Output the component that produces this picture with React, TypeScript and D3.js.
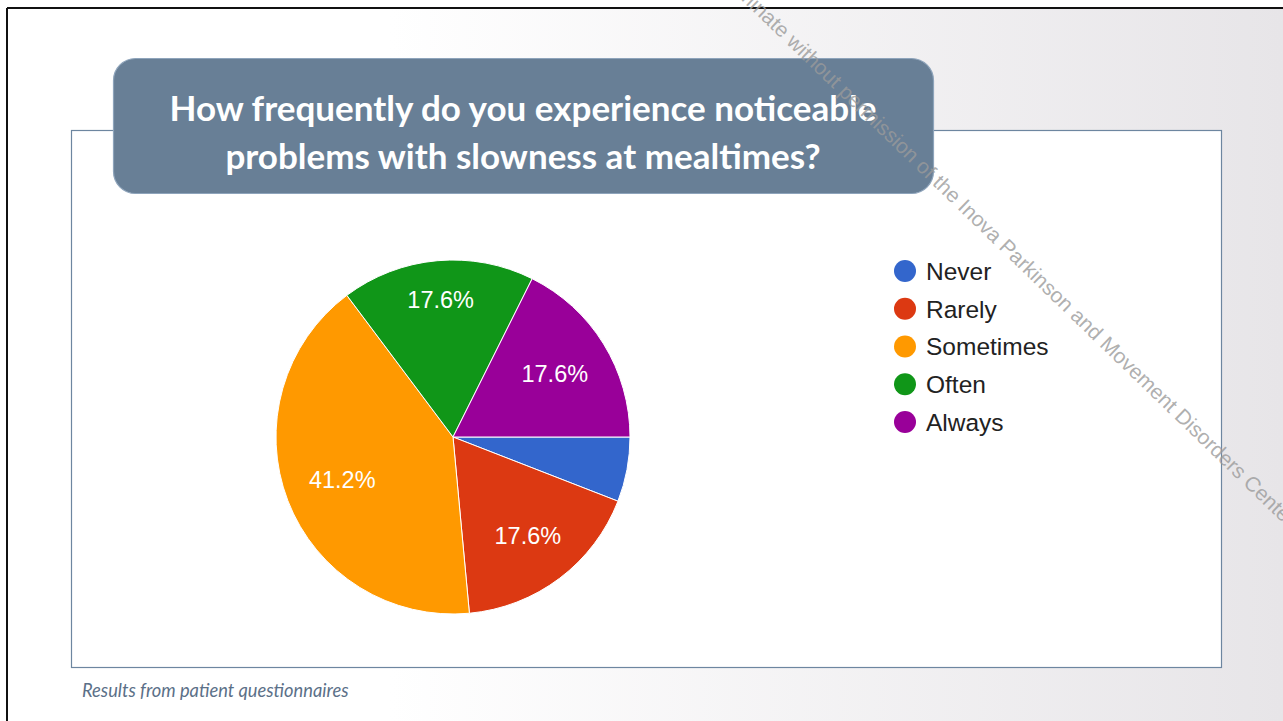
import React from "react";
import * as d3 from "d3";

const categories = ["Never", "Rarely", "Sometimes", "Often", "Always"];
const values = [5.9, 17.6, 41.2, 17.6, 17.6];
const colors = ["#3366cc", "#dc3912", "#ff9900", "#109618", "#990099"];
const titleLines = ["How frequently do you experience noticeable", "problems with slowness at mealtimes?"];
const footer = "Results from patient questionnaires";
const watermark = "Do not disseminate without permission of the Inova Parkinson and Movement Disorders Center";

export default function App() {
  const W = 1283, H = 721;
  const cx = 453, cy = 437, R = 177;
  const labelFont = 23.5;
  const pie = d3.pie<number>().sort(null).startAngle(Math.PI / 2).endAngle(Math.PI / 2 + 2 * Math.PI);
  const arcs = pie(values);
  const arc = d3.arc<d3.PieArcDatum<number>>().innerRadius(0).outerRadius(R);

  // push each label outward along the slice's mid-angle until its box nears the rim
  const labelPos = (a: d3.PieArcDatum<number>) => {
    const mid = (a.startAngle + a.endAngle) / 2;
    const w = labelFont * 2.84, h = 18;
    const limit = R * 0.865;
    let lo = 0, hi = R;
    for (let k = 0; k < 40; k++) {
      const r = (lo + hi) / 2;
      const x = Math.sin(mid) * r, y = -Math.cos(mid) * r;
      const far = Math.max(
        Math.hypot(x - w / 2, y - h / 2), Math.hypot(x + w / 2, y - h / 2),
        Math.hypot(x - w / 2, y + h / 2), Math.hypot(x + w / 2, y + h / 2)
      );
      if (far > limit) hi = r; else lo = r;
    }
    return [Math.sin(mid) * lo, -Math.cos(mid) * lo];
  };

  const legendY = d3.scalePoint<string>().domain(categories).range([271, 422]);

  return (
    <svg width={W} height={H} style={{ position: "absolute", left: 0, top: 0 }}>
      <defs>
        <linearGradient id="bg" x1="0" y1="0" x2="1" y2="0">
          <stop offset="0.3" stopColor="#ffffff" />
          <stop offset="1" stopColor="#e7e5e8" />
        </linearGradient>
      </defs>
      <rect width={W} height={H} fill="#ffffff" />
      <rect x={7} y={8} width={W - 7} height={H - 8} fill="url(#bg)" />
      <line x1={7} y1={8} x2={W} y2={8} stroke="#111" strokeWidth={2} />
      <line x1={7} y1={8} x2={7} y2={H} stroke="#111" strokeWidth={2} />

      <rect x={71.5} y={130.5} width={1150} height={537} fill="#ffffff" stroke="#6d86a0" strokeWidth={1.2} />

      <g>
        {arcs.map((a, i) => (
          <path key={i} d={arc(a) || ""} transform={`translate(${cx},${cy})`} fill={colors[i]} stroke="#ffffff" strokeWidth={1} />
        ))}
        {arcs.map((a, i) => {
          if (values[i] < 10) return null;
          const [lx, ly] = labelPos(a);
          return (
            <text key={"l" + i} x={cx + lx} y={cy + ly} dy="0.35em" textAnchor="middle" fill="#ffffff"
              fontFamily="Liberation Sans, Arial, sans-serif" fontSize={labelFont}>
              {values[i].toFixed(1)}%
            </text>
          );
        })}
      </g>

      <g fontFamily="Liberation Sans, Arial, sans-serif" fontSize={24.5} fill="#222222">
        {categories.map((c, i) => (
          <g key={c}>
            <circle cx={905} cy={legendY(c)} r={11} fill={colors[i]} />
            <text x={926} y={legendY(c)} dy="0.36em">{c}</text>
          </g>
        ))}
      </g>

      <rect x={113.5} y={58.5} width={820} height={135} rx={22} fill="#687f96" stroke="#8ea4bb" strokeWidth={1.2} />
      <g fontFamily="Lato, sans-serif" fontWeight={700} fontSize={35} fill="#ffffff" textAnchor="middle">
        <text x={523} y={121}>{titleLines[0]}</text>
        <text x={523} y={169}>{titleLines[1]}</text>
      </g>

      <text x={82} y={697} fontFamily="Lato, sans-serif" fontStyle="italic" fontSize={18.3} fill="#5b7088">{footer}</text>

      <text x={652} y={-86} transform="rotate(44 652 -86)" fontFamily="Liberation Sans, Arial, sans-serif" fontSize={21} fill="#9a9a9a" fillOpacity={0.8}>
        {watermark}
      </text>
    </svg>
  );
}
